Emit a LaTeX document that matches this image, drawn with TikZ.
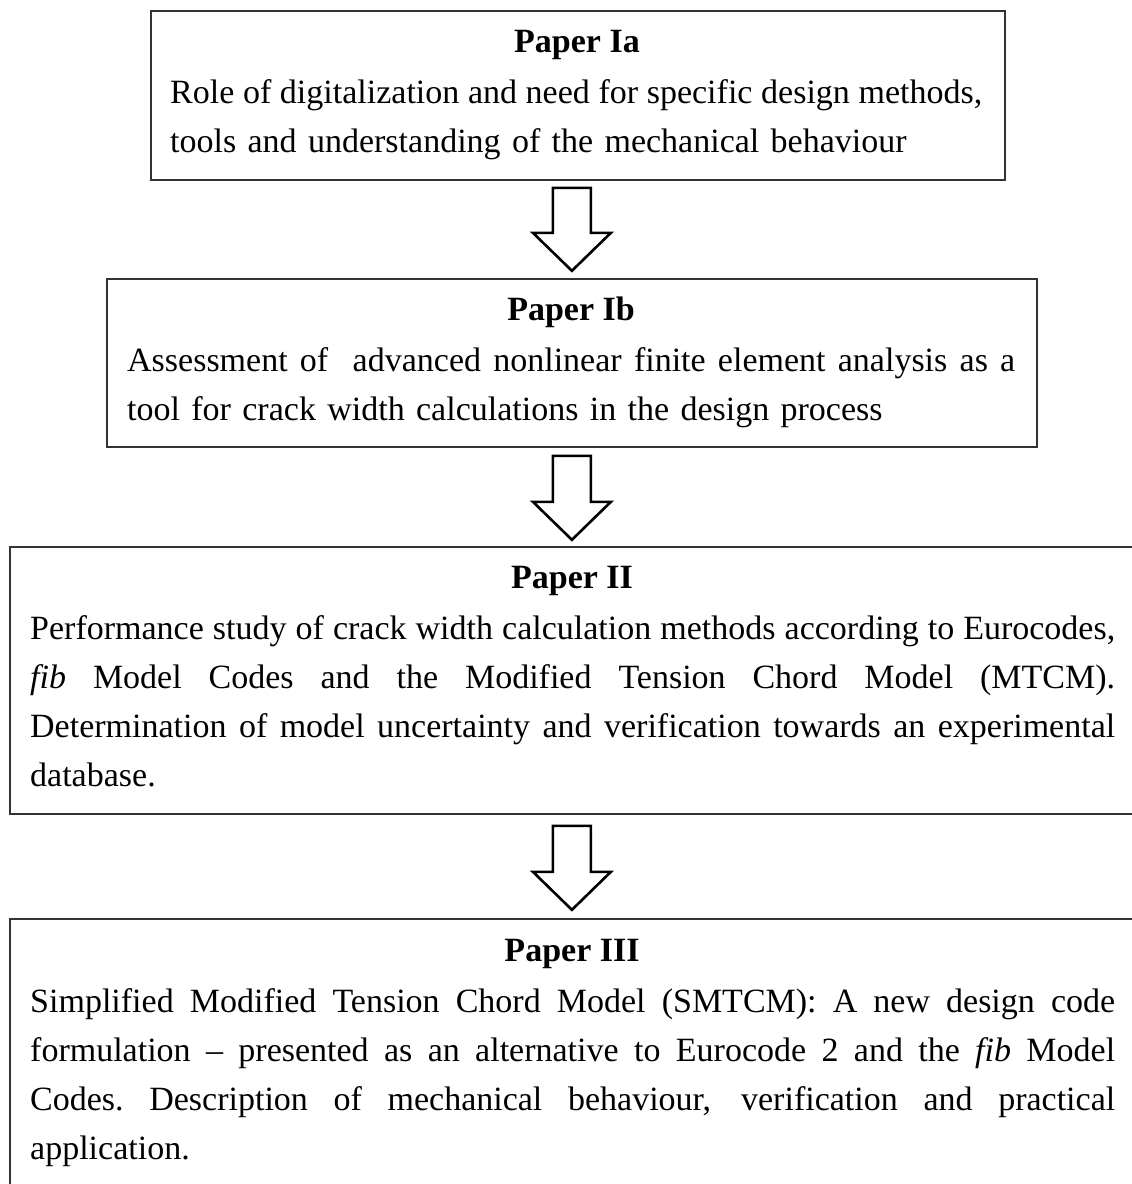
\documentclass[tikz,border=0pt]{standalone}
\usepackage{fontspec}
\setmainfont{Liberation Serif}
\usetikzlibrary{calc}
\tikzset{
  boxframe/.style={draw=black!80, line width=1.8pt, rectangle, inner sep=0pt, anchor=north west},
  headtxt/.style={anchor=base, inner sep=0pt, font=\fontsize{34}{49}\selectfont\bfseries},
  bodytxt/.style={anchor=base west, inner sep=0pt, align=left, font=\fontsize{34}{49}\selectfont},
  barrow/.style={draw=black, line width=2.6pt, fill=white, line join=miter}
}
\newcommand\jline[2]{\leavevmode\hbox to #1pt{\spaceskip=0.25em plus 1fil minus 0.12em\xspaceskip=0.25em plus 1fil minus 0.12em\relax #2}}
\begin{document}
\begin{tikzpicture}[x=1pt,y=-1pt]
\clip (0,0) rectangle (1132,1184);
\useasboundingbox (0,0) rectangle (1132,1184);
\fill[white] (0,0) rectangle (1132,1184);

% boxes
\node[boxframe, minimum width=854pt, minimum height=169pt] (b1) at (150,10) {};
\node[boxframe, minimum width=930pt, minimum height=168pt] (b2) at (106,278) {};
\node[boxframe, minimum width=1128pt, minimum height=267pt] (b3) at (9,546) {};
\node[boxframe, minimum width=1128pt, minimum height=267pt] (b4) at (9,918) {};

% box 1
\node[headtxt] (h1) at (577,52) {Paper Ia};
\node[bodytxt, text width=812pt] (t1) at (170,103)
  {\jline{812}{Role of digitalization and need for specific design methods,}\\
   tools and understanding of the mechanical behaviour};

% box 2
\node[headtxt] (h2) at (571,320) {Paper Ib};
\node[bodytxt, text width=888pt] (t2) at (127,371)
  {\jline{888}{Assessment of\ \ advanced nonlinear finite element analysis as a}\\
   tool for crack width calculations in the design process};

% box 3
\node[headtxt] (h3) at (572,588) {Paper II};
\node[bodytxt, text width=1085pt] (t3) at (30,639)
  {\jline{1085}{Performance study of crack width calculation methods according to Eurocodes,}\\
   \jline{1085}{\textit{fib} Model Codes and the Modified Tension Chord Model (MTCM).}\\
   \jline{1085}{Determination of model uncertainty and verification towards an experimental}\\
   database.};

% box 4
\node[headtxt] (h4) at (572,961) {Paper III};
\node[bodytxt, text width=1085pt] (t4) at (30,1012)
  {\jline{1085}{Simplified Modified Tension Chord Model (SMTCM): A new design code}\\
   \jline{1085}{formulation -- presented as an alternative to Eurocode 2 and the \textit{fib} Model}\\
   \jline{1085}{Codes. Description of mechanical behaviour, verification and practical}\\
   application.};

% block arrows between boxes
\coordinate (a1) at ($(b1.south)+(-6,7)$);
\coordinate (a2) at ($(b2.south)+(0,8)$);
\coordinate (a3) at ($(b3.south)+(-2,11)$);
\draw[barrow] ($(a1)+(-19,0)$) -- ($(a1)+(19,0)$) -- ($(a1)+(19,45)$) -- ($(a1)+(39,45)$)
  -- ($(a1)+(0,83)$) -- ($(a1)+(-39,45)$) -- ($(a1)+(-19,45)$) -- cycle;
\draw[barrow] ($(a2)+(-19,0)$) -- ($(a2)+(19,0)$) -- ($(a2)+(19,46)$) -- ($(a2)+(39,46)$)
  -- ($(a2)+(0,84)$) -- ($(a2)+(-39,46)$) -- ($(a2)+(-19,46)$) -- cycle;
\draw[barrow] ($(a3)+(-19,0)$) -- ($(a3)+(19,0)$) -- ($(a3)+(19,46)$) -- ($(a3)+(39,46)$)
  -- ($(a3)+(0,84)$) -- ($(a3)+(-39,46)$) -- ($(a3)+(-19,46)$) -- cycle;
\end{tikzpicture}
\end{document}
